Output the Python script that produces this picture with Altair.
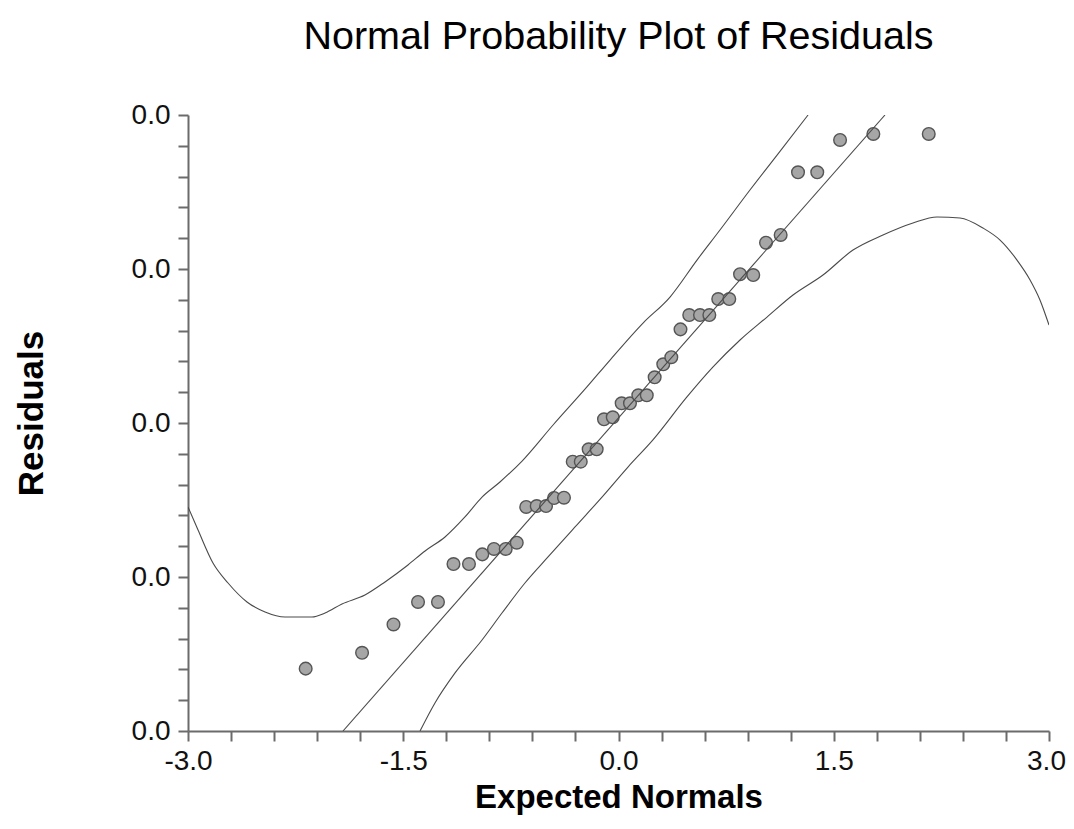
import altair as alt
import pandas as pd

# ---- data ----
exp_normals = [-2.180, -1.787, -1.568, -1.397, -1.258, -1.150, -1.042, -0.949, -0.868, -0.786,
               -0.709, -0.643, -0.570, -0.505, -0.449, -0.380, -0.319, -0.263, -0.208, -0.152,
               -0.101, -0.040, 0.022, 0.080, 0.138, 0.197, 0.252, 0.312, 0.368, 0.432,
               0.493, 0.568, 0.633, 0.695, 0.772, 0.847, 0.939, 1.028, 1.130, 1.251,
               1.385, 1.544, 1.776, 2.162]
residuals = [0.00405, 0.00508, 0.00692, 0.00838, 0.00838, 0.01084, 0.01084, 0.01147, 0.01182, 0.01182,
             0.01223, 0.01455, 0.01461, 0.01461, 0.01513, 0.01515, 0.01749, 0.01749, 0.01829, 0.01829,
             0.02024, 0.02037, 0.02128, 0.02128, 0.02180, 0.02180, 0.02297, 0.02381, 0.02427, 0.02608,
             0.02701, 0.02701, 0.02701, 0.02805, 0.02805, 0.02966, 0.02961, 0.03171, 0.03221, 0.03628,
             0.03628, 0.03838, 0.03877, 0.03877]

upper_x = [-3.000, -2.930, -2.826, -2.721, -2.589, -2.463, -2.324, -2.136, -2.045, -1.927,
           -1.767, -1.627, -1.467, -1.348, -1.209, -1.070, -0.951, -0.826, -0.672, -0.456,
           -0.220, -0.059, 0.171, 0.359, 0.547, 0.707, 0.916, 1.105, 1.321]
upper_y = [0.01455, 0.01305, 0.01091, 0.00961, 0.00838, 0.00773, 0.00740, 0.00740, 0.00766, 0.00825,
           0.00883, 0.00968, 0.01078, 0.01169, 0.01260, 0.01390, 0.01519, 0.01617, 0.01753, 0.01987,
           0.02234, 0.02409, 0.02649, 0.02818, 0.03058, 0.03253, 0.03513, 0.03740, 0.04000]

lower_x = [-1.383, -1.279, -1.139, -0.951, -0.812, -0.652, -0.491, -0.303, -0.115, 0.066,
           0.240, 0.477, 0.659, 0.847, 1.035, 1.216, 1.425, 1.634, 1.843, 2.052,
           2.220, 2.380, 2.540, 2.659, 2.777, 2.868, 2.937, 3.000]
lower_y = [0.00000, 0.00182, 0.00377, 0.00591, 0.00766, 0.00961, 0.01130, 0.01325, 0.01519, 0.01714,
           0.01890, 0.02169, 0.02364, 0.02539, 0.02688, 0.02831, 0.02961, 0.03123, 0.03221, 0.03299,
           0.03338, 0.03331, 0.03266, 0.03188, 0.03058, 0.02929, 0.02799, 0.02636]

fit_x = [-1.920, 1.857]
fit_y = [0.0, 0.04]

x_ticks = [-3.0, -2.7, -2.4, -2.1, -1.8, -1.5, -1.2, -0.9, -0.6, -0.3, 0.0,
           0.3, 0.6, 0.9, 1.2, 1.5, 1.8, 2.1, 2.4, 2.7, 3.0]
x_major = [-3.0, -1.5, 0.0, 1.5, 3.0]
x_major_labels = ["-3.0", "-1.5", "0.0", "1.5", "3.0"]

y_ticks = [0.0, 0.002, 0.004, 0.006, 0.008, 0.01, 0.012, 0.014, 0.016, 0.018, 0.02,
           0.022, 0.024, 0.026, 0.028, 0.03, 0.032, 0.034, 0.036, 0.038, 0.04]
y_major = [0.0, 0.01, 0.02, 0.03, 0.04]
y_major_labels = ["0.0", "0.0", "0.0", "0.0", "0.0"]


def label_expr(vals, labels):
    expr = "''"
    for v, lab in reversed(list(zip(vals, labels))):
        expr = f"abs(datum.value - ({v})) < 1e-6 ? '{lab}' : ({expr})"
    return expr


FONT = "Liberation Sans"
AXIS_COLOR = "#6b6b6b"
LINE_COLOR = "#4a4a4a"

pts = pd.DataFrame({"x": exp_normals, "y": residuals})
curves = pd.concat([
    pd.DataFrame({"x": upper_x, "y": upper_y, "s": "upper", "o": range(len(upper_x))}),
    pd.DataFrame({"x": lower_x, "y": lower_y, "s": "lower", "o": range(len(lower_x))}),
])
fit = pd.DataFrame({"x": fit_x, "y": fit_y})

xscale = alt.Scale(domain=[-3, 3], nice=False, zero=False)
yscale = alt.Scale(domain=[0, 0.04], nice=False, zero=False)

xaxis = alt.Axis(values=x_ticks, tickCount=40, labelExpr=label_expr(x_major, x_major_labels),
                 title="Expected Normals", grid=False,
                 labelOffset={"condition": {"test": f"datum.value >= {x_major[-1]}", "value": -3},
                              "value": 0},
                 titleY=66, titleBaseline="middle")
yaxis = alt.Axis(values=y_ticks, tickCount=40, labelExpr=label_expr(y_major, y_major_labels),
                 title="Residuals", grid=False, titleFontSize=35,
                 titleX=-157, titleY=298, titleAngle=270, titleAlign="center",
                 titleBaseline="middle")

points = alt.Chart(pts).mark_point(
    shape="circle", filled=True, size=160, fill="#a6a6a6", stroke="#555555",
    strokeWidth=1.4, opacity=1
).encode(
    x=alt.X("x:Q", scale=xscale, axis=xaxis),
    y=alt.Y("y:Q", scale=yscale, axis=yaxis),
)

bands = alt.Chart(curves).mark_line(
    color=LINE_COLOR, strokeWidth=1.1, clip=True, interpolate="monotone"
).encode(
    x=alt.X("x:Q", scale=xscale),
    y=alt.Y("y:Q", scale=yscale),
    detail="s:N",
    order="o:Q",
)

fit_line = alt.Chart(fit).mark_line(color=LINE_COLOR, strokeWidth=1.1, clip=True).encode(
    x=alt.X("x:Q", scale=xscale),
    y=alt.Y("y:Q", scale=yscale),
)

chart = alt.layer(points, bands, fit_line).properties(
    width=861,
    height=616,
    title=alt.TitleParams("Normal Probability Plot of Residuals", fontSize=39.5,
                          font=FONT, fontWeight="normal", color="#000000",
                          anchor="middle", frame="group", offset=44),
    autosize=alt.AutoSizeParams(type="none"),
    padding={"left": 180, "top": 107, "right": 17, "bottom": 90},
).configure_view(
    stroke=None
).configure_axis(
    domainColor=AXIS_COLOR, domainWidth=2, tickColor=AXIS_COLOR, tickWidth=2,
    tickSize=10, labelFont=FONT, labelFontSize=28, labelColor="#111111",
    labelPadding=6, titleFont=FONT, titleFontSize=33, titleFontWeight="bold",
    titleColor="#000000", labelFlush=False, labelOverlap=False
).configure_axisY(
    labelPadding=8
)

chart.save("out.html", embed_options={"renderer": "svg", "actions": False})
